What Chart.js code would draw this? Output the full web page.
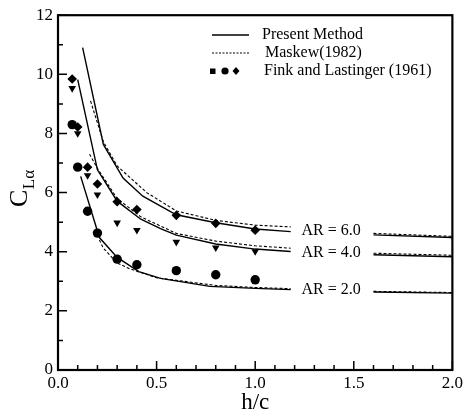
<!DOCTYPE html>
<html>
<head>
<meta charset="utf-8">
<script src="https://cdn.jsdelivr.net/npm/chart.js@4.4.0/dist/chart.umd.min.js"></script>
<style>
  html, body { margin: 0; padding: 0; background: #fff; }
  #wrap { width: 466px; height: 416px; }
</style>
</head>
<body>
<div id="wrap"><canvas id="chart" width="466" height="416"></canvas></div>
<script>
// Present method (solid). null = break where the AR label sits
const present6X = [0.125, 0.23, 0.33, 0.43, 0.6, 0.8, 1.0, 1.18, 1.4, 1.6, 2.0];
const present6Y = [10.9, 7.63, 6.49, 5.88, 5.25, 4.98, 4.77, 4.68, null, 4.57, 4.48];
const present4X = [0.1, 0.2, 0.3, 0.42, 0.52, 0.6, 0.8, 1.0, 1.18, 1.4, 1.6, 2.0];
const present4Y = [9.82, 6.77, 5.71, 5.1, 4.78, 4.56, 4.26, 4.09, 4.01, null, 3.9, 3.83];
const present2X = [0.115, 0.21, 0.3, 0.41, 0.52, 0.77, 1.0, 1.18, 1.4, 1.6, 2.0];
const present2Y = [6.55, 4.48, 3.81, 3.33, 3.1, 2.83, 2.76, 2.72, null, 2.64, 2.6];

// Maskew (1982), dashed
const maskew6X = [0.165, 0.23, 0.3, 0.45, 0.6, 0.8, 1.0, 1.18, 1.4, 1.6, 2.0];
const maskew6Y = [9.1, 7.72, 6.9, 6.0, 5.38, 5.06, 4.9, 4.84, null, 4.62, 4.52];
const maskew4X = [0.16, 0.2, 0.3, 0.42, 0.6, 0.8, 1.0, 1.18, 1.4, 1.6, 2.0];
const maskew4Y = [7.3, 6.82, 5.8, 5.18, 4.62, 4.36, 4.2, 4.12, null, 3.95, 3.88];
const maskew2X = [0.21, 0.23, 0.3, 0.365, 0.5, 0.8, 1.0, 1.18, 1.4, 1.6, 2.0];
const maskew2Y = [4.4, 4.12, 3.62, 3.42, 3.12, 2.86, 2.79, 2.75, null, 2.66, 2.62];

// Fink and Lastinger (1961) experiments
const finkX = [0.072, 0.1, 0.15, 0.2, 0.3, 0.4, 0.6, 0.8, 1.0];
const fink6Y = [9.84, 8.22, 6.86, 6.29, 5.69, 5.43, 5.23, 4.96, 4.73];
const fink4Y = [9.53, 8.0, 6.58, 5.93, 4.98, 4.73, 4.33, 4.14, 4.01];
const fink2Y = [8.30, 6.86, 5.37, 4.63, 3.75, 3.56, 3.36, 3.22, 3.05];

const arLabels = ['AR = 6.0', 'AR = 4.0', 'AR = 2.0'];
const arLabelX = 1.235;
const arLabelY = [4.70, 3.98, 2.72];

const legendLabels = ['Present Method', 'Maskew(1982)', 'Fink and Lastinger (1961)'];

const xTicks = [0, 0.5, 1.0, 1.5, 2.0];
const yTicks = [0, 2, 4, 6, 8, 10, 12];

const SERIF = 'Liberation Serif';
Chart.defaults.font.family = SERIF;
Chart.defaults.color = '#000';

// split a curve into pieces at the null entries
const pieces = (xs, ys) => {
  const out = [[]];
  xs.forEach((x, i) => {
    if (ys[i] === null) out.push([]);
    else out[out.length - 1].push({ x: x, y: ys[i] });
  });
  return out;
};

const solid = (xs, ys) => pieces(xs, ys).map(d => ({
  data: d, showLine: true, pointRadius: 0, borderColor: '#000', borderWidth: 1.4
}));
const dashed = (xs, ys) => pieces(xs, ys).map(d => ({
  data: d, showLine: true, pointRadius: 0, borderColor: '#000',
  borderWidth: 1.1, borderDash: [3, 2]
}));
const marks = (ys, style, r, rot) => ({
  data: finkX.map((x, i) => ({ x: x, y: ys[i] })), showLine: false, pointStyle: style, pointRadius: r,
  pointRotation: rot || 0, backgroundColor: '#000', borderColor: '#000', borderWidth: 0
});

// inward ticks, frame, legend, labels
const decor = {
  id: 'decor',
  afterDraw(chart) {
    const { ctx, chartArea: a, scales: { x, y } } = chart;
    ctx.save();
    ctx.strokeStyle = '#000';
    ctx.lineWidth = 1.5;
    ctx.beginPath();
    for (let i = 0; i <= 20; i++) {
      const px = x.getPixelForValue(i / 10);
      const len = i % 5 === 0 ? 9 : 5;
      ctx.moveTo(px, a.bottom); ctx.lineTo(px, a.bottom - len);
    }
    for (let i = 0; i <= 12; i++) {
      const py = y.getPixelForValue(i);
      const len = i % 2 === 0 ? 9 : 5;
      ctx.moveTo(a.left, py); ctx.lineTo(a.left + len, py);
    }
    ctx.stroke();
    ctx.lineWidth = 2.2;
    ctx.strokeRect(a.left, a.top, a.right - a.left, a.bottom - a.top);

    // AR labels
    ctx.fillStyle = '#000';
    ctx.font = '16px ' + SERIF;
    ctx.textBaseline = 'middle';
    ctx.textAlign = 'left';
    arLabels.forEach((t, i) => {
      ctx.fillText(t, x.getPixelForValue(arLabelX), y.getPixelForValue(arLabelY[i]));
    });

    // legend
    ctx.lineWidth = 1.3;
    ctx.beginPath(); ctx.moveTo(212, 35); ctx.lineTo(249, 35); ctx.stroke();
    ctx.lineWidth = 1;
    ctx.setLineDash([2, 1.5]);
    ctx.beginPath(); ctx.moveTo(212, 53); ctx.lineTo(249, 53); ctx.stroke();
    ctx.setLineDash([]);
    ctx.fillRect(210, 68.5, 5.5, 5.5);
    ctx.beginPath(); ctx.arc(225, 71, 3.6, 0, Math.PI * 2); ctx.fill();
    ctx.beginPath(); ctx.moveTo(236, 67); ctx.lineTo(239.5, 71); ctx.lineTo(236, 75); ctx.lineTo(232.5, 71); ctx.closePath(); ctx.fill();
    ctx.fillText(legendLabels[0], 262, 35);
    ctx.fillText(legendLabels[1], 265, 53);
    ctx.fillText(legendLabels[2], 264, 71);

    // axis titles
    ctx.font = '23px ' + SERIF;
    ctx.textAlign = 'center';
    ctx.textBaseline = 'alphabetic';
    ctx.fillText('h/c', (a.left + a.right) / 2, 409);

    ctx.save();
    ctx.translate(27, 207);
    ctx.rotate(-Math.PI / 2);
    ctx.textAlign = 'left';
    ctx.font = '26px ' + SERIF;
    ctx.fillText('C', 0, 0);
    const cw = ctx.measureText('C').width;
    ctx.font = '17px ' + SERIF;
    ctx.fillText('L\u03b1', cw + 0.5, 7);
    ctx.restore();
    ctx.restore();
  }
};

new Chart(document.getElementById('chart'), {
  type: 'scatter',
  data: {
    datasets: [
      ...solid(present6X, present6Y), ...solid(present4X, present4Y), ...solid(present2X, present2Y),
      ...dashed(maskew6X, maskew6Y), ...dashed(maskew4X, maskew4Y), ...dashed(maskew2X, maskew2Y),
      marks(fink6Y, 'rectRot', 4.8),
      marks(fink4Y, 'triangle', 4.4, 180),
      marks(fink2Y, 'circle', 4.7)
    ]
  },
  options: {
    responsive: false,
    animation: false,
    layout: { padding: { top: 12, right: 13, left: 0, bottom: 0 } },
    plugins: { legend: { display: false }, tooltip: { enabled: false } },
    scales: {
      x: {
        type: 'linear', min: 0, max: 2,
        afterBuildTicks: s => { s.ticks = xTicks.map(v => ({ value: v })); },
        afterFit: s => { s.height = 46; },
        grid: { display: false, drawTicks: false },
        border: { display: false },
        ticks: { color: '#000', padding: 3, maxRotation: 0, font: { family: SERIF, size: 17 },
          callback: v => v.toFixed(1) }
      },
      y: {
        type: 'linear', min: 0, max: 12,
        afterBuildTicks: s => { s.ticks = yTicks.map(v => ({ value: v })); },
        afterFit: s => { s.width = 58; },
        grid: { display: false, drawTicks: false },
        border: { display: false },
        ticks: { color: '#000', padding: 5, font: { family: SERIF, size: 17 } }
      }
    }
  },
  plugins: [decor]
});
</script>
</body>
</html>
